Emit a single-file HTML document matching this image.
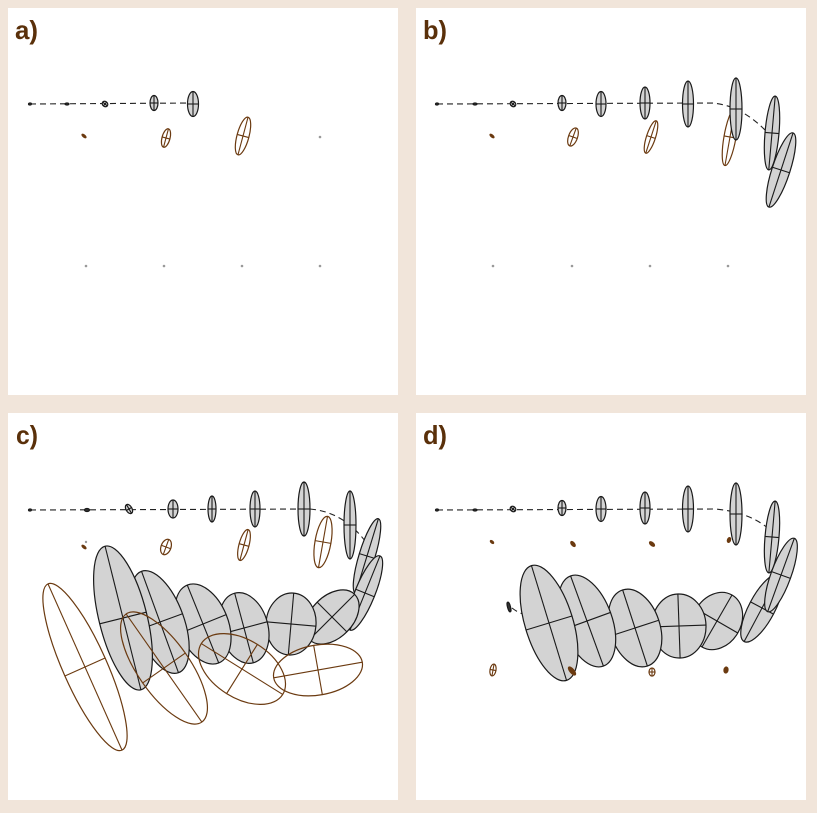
<!DOCTYPE html>
<html><head><meta charset="utf-8"><style>
html,body{margin:0;padding:0;background:#f1e5da;}
svg{display:block}
.g ellipse{fill:#d3d3d3;stroke:#1a1a1a;stroke-width:1.2}
.g line{stroke:#1a1a1a;stroke-width:1.1}
.b ellipse{fill:none;stroke:#6b3a10;stroke-width:1.2}
.b line{stroke:#6b3a10;stroke-width:1.1}
.b ellipse.f{fill:#6b3a10}
.g ellipse.f{fill:#333}
.d{fill:none;stroke:#222;stroke-width:1.1;stroke-dasharray:6,4}
.lbl{font-family:"Liberation Sans",sans-serif;font-weight:bold;font-size:26px;fill:#5a300a}
</style></head><body>
<svg width="817" height="813" viewBox="0 0 817 813" xmlns="http://www.w3.org/2000/svg">
<rect width="817" height="813" fill="#f1e5da"/>
<rect x="8" y="8" width="390" height="387" fill="#fff"/>
<rect x="416" y="8" width="390" height="387" fill="#fff"/>
<rect x="8" y="413" width="390" height="387" fill="#fff"/>
<rect x="416" y="413" width="390" height="387" fill="#fff"/>
<text class="lbl" x="15" y="39" textLength="23" lengthAdjust="spacingAndGlyphs">a)</text>
<text class="lbl" x="423" y="39" textLength="24" lengthAdjust="spacingAndGlyphs">b)</text>
<text class="lbl" x="16" y="444" textLength="22" lengthAdjust="spacingAndGlyphs">c)</text>
<text class="lbl" x="423" y="444" textLength="24" lengthAdjust="spacingAndGlyphs">d)</text>

<!-- Panel a -->
<path class="d" d="M30 104 L195 103"/>
<g class="g">
<g transform="translate(30,104)"><ellipse class="f" rx="1.5" ry="1"/></g>
<g transform="translate(67,104)"><ellipse class="f" rx="2" ry="1"/></g>
<g transform="translate(105,104) rotate(40)"><ellipse rx="3" ry="2.5"/><line x1="-3" x2="3"/><line y1="-2.5" y2="2.5"/></g>
<g transform="translate(154,103)"><ellipse rx="4" ry="7.5"/><line x1="-4" x2="4"/><line y1="-7.5" y2="7.5"/></g>
<g transform="translate(193,104)"><ellipse rx="5.5" ry="12.5"/><line x1="-5.5" x2="5.5"/><line y1="-12.5" y2="12.5"/></g>
</g>
<g class="b">
<g transform="translate(84,136) rotate(-50)"><ellipse class="f" rx="1" ry="2.5"/></g>
<g transform="translate(166,138) rotate(15)"><ellipse rx="4" ry="9.5"/><line x1="-4" x2="4"/><line y1="-9.5" y2="9.5"/></g>
<g transform="translate(243,136) rotate(15)"><ellipse rx="6" ry="19.5"/><line x1="-6" x2="6"/><line y1="-19.5" y2="19.5"/></g>
</g>
<g fill="#999"><circle cx="320" cy="137" r="1.3"/><circle cx="86" cy="266" r="1.3"/><circle cx="164" cy="266" r="1.3"/><circle cx="242" cy="266" r="1.3"/><circle cx="320" cy="266" r="1.3"/></g>

<!-- Panel b -->
<path class="d" d="M437 104 L712 103 Q740 105 765 130"/>
<g class="b">
<g transform="translate(492,136) rotate(-50)"><ellipse class="f" rx="1" ry="2.5"/></g>
<g transform="translate(573,137) rotate(20)"><ellipse rx="4.5" ry="9.5"/><line x1="-4.5" x2="4.5"/><line y1="-9.5" y2="9.5"/></g>
<g transform="translate(651,137) rotate(18)"><ellipse rx="4.5" ry="17"/><line x1="-4.5" x2="4.5"/><line y1="-17" y2="17"/></g>
<g transform="translate(730,137) rotate(10)"><ellipse rx="6" ry="29"/><line x1="-6" x2="6"/><line y1="-29" y2="29"/></g>
</g>
<g class="g">
<g transform="translate(437,104)"><ellipse class="f" rx="1.5" ry="1"/></g>
<g transform="translate(475,104)"><ellipse class="f" rx="2" ry="1"/></g>
<g transform="translate(513,104) rotate(40)"><ellipse rx="3" ry="2.5"/><line x1="-3" x2="3"/><line y1="-2.5" y2="2.5"/></g>
<g transform="translate(562,103)"><ellipse rx="4" ry="7.5"/><line x1="-4" x2="4"/><line y1="-7.5" y2="7.5"/></g>
<g transform="translate(601,104)"><ellipse rx="5" ry="12.5"/><line x1="-5" x2="5"/><line y1="-12.5" y2="12.5"/></g>
<g transform="translate(645,103)"><ellipse rx="5" ry="16"/><line x1="-5" x2="5"/><line y1="-16" y2="16"/></g>
<g transform="translate(688,104)"><ellipse rx="5.5" ry="23"/><line x1="-5.5" x2="5.5"/><line y1="-23" y2="23"/></g>
<g transform="translate(736,109)"><ellipse rx="6" ry="31"/><line x1="-6" x2="6"/><line y1="-31" y2="31"/></g>
<g transform="translate(772,133) rotate(5)"><ellipse rx="7" ry="37"/><line x1="-7" x2="7"/><line y1="-37" y2="37"/></g>
<g transform="translate(781,170) rotate(18)"><ellipse rx="9" ry="39"/><line x1="-9" x2="9"/><line y1="-39" y2="39"/></g>
</g>
<g fill="#999"><circle cx="493" cy="266" r="1.3"/><circle cx="572" cy="266" r="1.3"/><circle cx="650" cy="266" r="1.3"/><circle cx="728" cy="266" r="1.3"/></g>

<!-- Panel c -->
<path class="d" d="M30 510 L310 509 Q345 512 368 545"/>
<g class="g">
<g transform="translate(30,510)"><ellipse class="f" rx="1.5" ry="1"/></g>
<g transform="translate(87,510)"><ellipse class="f" rx="2.5" ry="1.5"/></g>
<g transform="translate(129,509) rotate(-30)"><ellipse rx="3" ry="5"/><line x1="-3" x2="3"/><line y1="-5" y2="5"/></g>
<g transform="translate(173,509)"><ellipse rx="5" ry="9"/><line x1="-5" x2="5"/><line y1="-9" y2="9"/></g>
<g transform="translate(212,509)"><ellipse rx="4" ry="13"/><line x1="-4" x2="4"/><line y1="-13" y2="13"/></g>
<g transform="translate(255,509)"><ellipse rx="5" ry="18"/><line x1="-5" x2="5"/><line y1="-18" y2="18"/></g>
<g transform="translate(304,509)"><ellipse rx="6" ry="27"/><line x1="-6" x2="6"/><line y1="-27" y2="27"/></g>
<g transform="translate(350,525)"><ellipse rx="6" ry="34"/><line x1="-6" x2="6"/><line y1="-34" y2="34"/></g>
</g>
<g class="b">
<g transform="translate(84,547) rotate(-50)"><ellipse class="f" rx="1" ry="2.5"/></g>
<g transform="translate(166,547) rotate(20)"><ellipse rx="5" ry="8"/><line x1="-5" x2="5"/><line y1="-8" y2="8"/></g>
<g transform="translate(244,545) rotate(15)"><ellipse rx="5" ry="16"/><line x1="-5" x2="5"/><line y1="-16" y2="16"/></g>
<g transform="translate(323,542) rotate(10)"><ellipse rx="8" ry="26"/><line x1="-8" x2="8"/><line y1="-26" y2="26"/></g>
</g>
<g fill="#999"><circle cx="86" cy="542" r="1.2"/></g>
<g class="g">
<g transform="translate(367,556) rotate(17)"><ellipse rx="8" ry="39"/><line x1="-8" x2="8"/><line y1="-39" y2="39"/></g>
<g transform="translate(365,593) rotate(22)"><ellipse rx="10" ry="40"/><line x1="-10" x2="10"/><line y1="-40" y2="40"/></g>
<g transform="translate(332,617) rotate(45)"><ellipse rx="21" ry="32"/><line x1="-21" x2="21"/><line y1="-32" y2="32"/></g>
<g transform="translate(291,624) rotate(5)"><ellipse rx="25" ry="31"/><line x1="-25" x2="25"/><line y1="-31" y2="31"/></g>
<g transform="translate(244,628) rotate(-15)"><ellipse rx="24" ry="36"/><line x1="-24" x2="24"/><line y1="-36" y2="36"/></g>
<g transform="translate(203,624) rotate(-22)"><ellipse rx="25" ry="42"/><line x1="-25" x2="25"/><line y1="-42" y2="42"/></g>
<g transform="translate(160,622) rotate(-20)"><ellipse rx="24" ry="54"/><line x1="-24" x2="24"/><line y1="-54" y2="54"/></g>
<g transform="translate(123,618) rotate(-14)"><ellipse rx="24" ry="74"/><line x1="-24" x2="24"/><line y1="-74" y2="74"/></g>
</g>
<g class="b">
<g transform="translate(85,667) rotate(-24)"><ellipse rx="22" ry="91"/><line x1="-22" x2="22"/><line y1="-91" y2="91"/></g>
<g transform="translate(164,668) rotate(-35)"><ellipse rx="26" ry="66"/><line x1="-26" x2="26"/><line y1="-66" y2="66"/></g>
<g transform="translate(242,669) rotate(32)"><ellipse rx="48" ry="29"/><line x1="-48" x2="48"/><line y1="-29" y2="29"/></g>
<g transform="translate(318,670) rotate(-10)"><ellipse rx="45" ry="25"/><line x1="-45" x2="45"/><line y1="-25" y2="25"/></g>
</g>

<!-- Panel d -->
<path class="d" d="M437 510 L715 509 Q750 512 770 530"/>
<path class="d" d="M512 608 Q517 612 523 614"/>
<g class="g">
<g transform="translate(437,510)"><ellipse class="f" rx="1.5" ry="1"/></g>
<g transform="translate(475,510)"><ellipse class="f" rx="2" ry="1"/></g>
<g transform="translate(513,509) rotate(40)"><ellipse rx="3" ry="2.5"/><line x1="-3" x2="3"/><line y1="-2.5" y2="2.5"/></g>
<g transform="translate(562,508)"><ellipse rx="4" ry="7.5"/><line x1="-4" x2="4"/><line y1="-7.5" y2="7.5"/></g>
<g transform="translate(601,509)"><ellipse rx="5" ry="12.5"/><line x1="-5" x2="5"/><line y1="-12.5" y2="12.5"/></g>
<g transform="translate(645,508)"><ellipse rx="5" ry="16"/><line x1="-5" x2="5"/><line y1="-16" y2="16"/></g>
<g transform="translate(688,509)"><ellipse rx="5.5" ry="23"/><line x1="-5.5" x2="5.5"/><line y1="-23" y2="23"/></g>
<g transform="translate(736,514)"><ellipse rx="6" ry="31"/><line x1="-6" x2="6"/><line y1="-31" y2="31"/></g>
<g transform="translate(509,607) rotate(-15)"><ellipse class="f" rx="1.5" ry="5"/></g>
</g>
<g class="b">
<g transform="translate(492,542) rotate(-50)"><ellipse class="f" rx="1" ry="2"/></g>
<g transform="translate(573,544) rotate(-40)"><ellipse class="f" rx="1.5" ry="3"/></g>
<g transform="translate(652,544) rotate(-50)"><ellipse class="f" rx="1.5" ry="3"/></g>
<g transform="translate(729,540) rotate(20)"><ellipse class="f" rx="1.5" ry="2.5"/></g>
<g transform="translate(493,670) rotate(10)"><ellipse rx="3" ry="6"/><line x1="-3" x2="3"/><line y1="-6" y2="6"/></g>
<g transform="translate(652,672)"><ellipse rx="3" ry="4"/><line x1="-3" x2="3"/><line y1="-4" y2="4"/></g>
<g transform="translate(726,670) rotate(10)"><ellipse class="f" rx="2" ry="3"/></g>
</g>
<g class="g">
<g transform="translate(772,537) rotate(5)"><ellipse rx="7" ry="36"/><line x1="-7" x2="7"/><line y1="-36" y2="36"/></g>
<g transform="translate(762,608) rotate(28)"><ellipse rx="13" ry="38"/><line x1="-13" x2="13"/><line y1="-38" y2="38"/></g>
<g transform="translate(781,575) rotate(20)"><ellipse rx="10" ry="39"/><line x1="-10" x2="10"/><line y1="-39" y2="39"/></g>
<g transform="translate(717,621) rotate(30)"><ellipse rx="24" ry="30"/><line x1="-24" x2="24"/><line y1="-30" y2="30"/></g>
<g transform="translate(679,626) rotate(-2)"><ellipse rx="27" ry="32"/><line x1="-27" x2="27"/><line y1="-32" y2="32"/></g>
<g transform="translate(635,628) rotate(-18)"><ellipse rx="25" ry="40"/><line x1="-25" x2="25"/><line y1="-40" y2="40"/></g>
<g transform="translate(587,621) rotate(-20)"><ellipse rx="25" ry="48"/><line x1="-25" x2="25"/><line y1="-48" y2="48"/></g>
<g transform="translate(549,623) rotate(-17)"><ellipse rx="24" ry="60"/><line x1="-24" x2="24"/><line y1="-60" y2="60"/></g>
</g>
<g class="b">
<g transform="translate(572,671) rotate(-40)"><ellipse class="f" rx="2" ry="5"/></g>
</g>
</svg>
</body></html>
